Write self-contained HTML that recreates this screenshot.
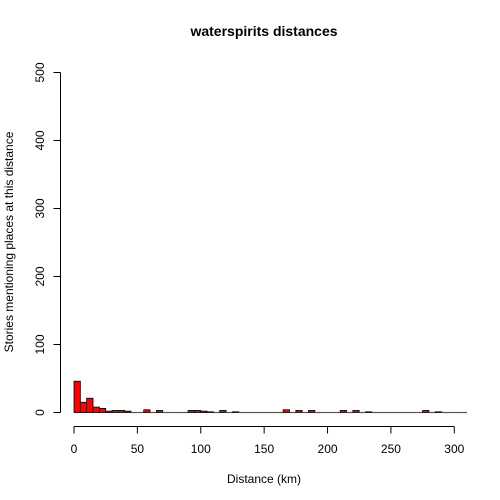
<!DOCTYPE html>
<html><head><meta charset="utf-8"><style>body{margin:0;background:#fff}svg{display:block;font-family:"Liberation Sans",sans-serif}</style></head>
<body>
<svg id="chart" width="500" height="500">
<text x="264" y="36" text-anchor="middle" font-weight="bold" font-size="14">waterspirits distances</text>
<text x="264" y="483" text-anchor="middle" font-size="12">Distance (km)</text>
<text transform="translate(13,242) rotate(-90)" text-anchor="middle" font-size="12">Stories mentioning places at this distance</text>
<g id="bars"></g>
<g id="xaxis"></g>
<g id="yaxis"></g>
</svg>
<script>
const binWidth = 5;
const counts = [46,15,21,8,6,2,3,3,2,0,0,4,0,3,0,0,0,0,3,3,2,1,0,3,0,1,0,0,0,0,0,0,0,4,0,3,0,3,0,0,0,0,3,0,3,0,1,0,0,0,0,0,0,0,0,3,0,1,0,0,0,0];
const xTicks = [0,50,100,150,200,250,300];
const yTicks = [0,100,200,300,400,500];
const NS = "http://www.w3.org/2000/svg";
const xs = v => 74 + v * (454.3 - 74) / 300;
const ys = v => 412.5 - v * (412.5 - 72.5) / 500;
const bars = document.getElementById('bars');
counts.forEach((c, i) => {
  const x0 = xs(i * binWidth), x1 = xs((i + 1) * binWidth);
  if (c === 0) {
    const l = document.createElementNS(NS, 'line');
    l.setAttribute('x1', x0); l.setAttribute('x2', x1);
    l.setAttribute('y1', ys(0)); l.setAttribute('y2', ys(0));
    l.setAttribute('stroke', '#555'); l.setAttribute('stroke-width', '1.2');
    
    
    bars.appendChild(l);
    return;
  }
  const r = document.createElementNS(NS, 'rect');
  r.setAttribute('x', x0); r.setAttribute('width', x1 - x0);
  r.setAttribute('y', ys(c)); r.setAttribute('height', ys(0) - ys(c));
  r.setAttribute('fill', 'red'); r.setAttribute('stroke', '#000'); r.setAttribute('stroke-width', '0.8');
  
  
  bars.appendChild(r);
});
function line(g, x1, y1, x2, y2) {
  const l = document.createElementNS(NS, 'line');
  l.setAttribute('x1', x1); l.setAttribute('y1', y1); l.setAttribute('x2', x2); l.setAttribute('y2', y2);
  l.setAttribute('stroke', '#000');
  g.appendChild(l);
}
function text(g, x, y, s, tr) {
  const t = document.createElementNS(NS, 'text');
  t.setAttribute('x', x); t.setAttribute('y', y); t.setAttribute('font-size', '12'); t.setAttribute('text-anchor', 'middle');
  if (tr) t.setAttribute('transform', tr);
  t.textContent = s;
  
  
  g.appendChild(t);
}
const xa = document.getElementById('xaxis');
line(xa, xs(xTicks[0]), 426.5, xs(xTicks[xTicks.length - 1]), 426.5);
xTicks.forEach(v => { line(xa, xs(v), 426.5, xs(v), 433.5); text(xa, xs(v), 453, String(v)); });
const ya = document.getElementById('yaxis');
line(ya, 60.5, ys(yTicks[0]), 60.5, ys(yTicks[yTicks.length - 1]));
yTicks.forEach(v => { line(ya, 53.5, ys(v), 60.5, ys(v)); text(ya, 44, ys(v), String(v), `rotate(-90,44,${ys(v)})`); });
</script>
</body></html>
